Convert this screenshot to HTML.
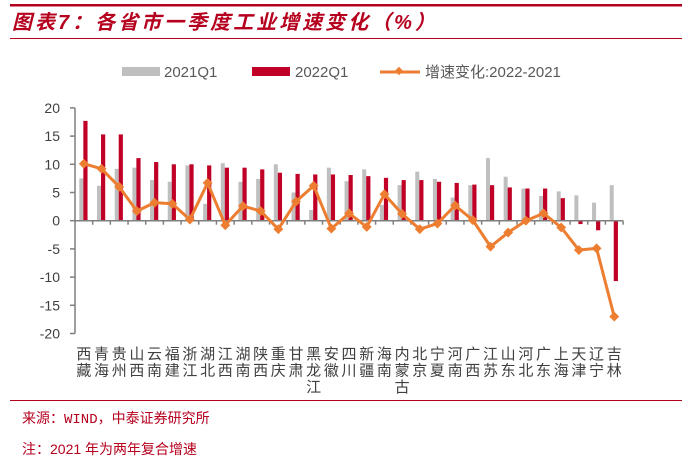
<!DOCTYPE html>
<html><head><meta charset="utf-8"><style>
body{margin:0;background:#fff;width:694px;height:462px;overflow:hidden;font-family:"Liberation Sans","Noto Sans CJK SC",sans-serif}
</style></head><body>
<svg id="c" width="694" height="462" xmlns="http://www.w3.org/2000/svg">
<rect x="10" y="4" width="672" height="2.5" fill="#b5001e"/>
<text x="12" y="29" font-size="20" font-style="italic" font-weight="bold" letter-spacing="3" fill="#b5001e" font-family="'Liberation Sans','Noto Sans CJK SC',sans-serif">图表7：各省市一季度工业增速变化（%）</text>
<rect x="10" y="38" width="672" height="1" fill="#b5001e"/>
<g>
<rect x="122" y="67" width="38" height="9" fill="#bfbfbf"/>
<text x="164" y="77" font-size="15" fill="#595959">2021Q1</text>
<rect x="252" y="67" width="38" height="9" fill="#c00026"/>
<text x="295" y="77" font-size="15" fill="#595959">2022Q1</text>
<line x1="380" y1="72" x2="420" y2="72" stroke="#ed7d31" stroke-width="3"/>
<rect x="396" y="68" width="6" height="6" fill="#ed7d31" transform="rotate(45 399 71)"/>
<text x="425" y="77" font-size="15" fill="#595959">增速变化:2022-2021</text>
</g>
<g id="plot"></g>
<rect x="10" y="400" width="672" height="1" fill="#b5001e"/>
<text x="22" y="423" font-size="14" fill="#b5001e" font-family="'Liberation Mono','Noto Sans CJK SC',monospace">来源：WIND，中泰证券研究所</text>
<text x="22" y="454" font-size="14" fill="#b5001e" font-family="'Liberation Sans','Noto Sans CJK SC',sans-serif">注：2021 年为两年复合增速</text>
</svg>
<script>
const categories=["西藏","青海","贵州","山西","云南","福建","浙江","湖北","江西","湖南","陕西","重庆","甘肃","黑龙江","安徽","四川","新疆","海南","内蒙古","北京","宁夏","河南","广西","江苏","山东","河北","广东","上海","天津","辽宁","吉林"];
const values2021=[7.5,6.2,9.2,9.4,7.2,6.9,9.8,3.0,10.2,6.9,7.4,10.0,5.0,1.9,9.4,7.0,9.1,2.8,6.3,8.7,7.4,4.1,6.3,11.1,7.8,5.7,4.4,5.2,4.5,3.2,6.3];
const values2022=[17.7,15.3,15.3,11.1,10.4,10.0,10.0,9.8,9.4,9.4,9.1,8.5,8.3,8.2,8.2,8.1,7.9,7.6,7.2,7.2,6.9,6.7,6.4,6.3,5.9,5.7,5.7,4.0,-0.6,-1.7,-10.7];
const changeValues=[10.1,9.2,6.0,1.7,3.2,3.0,0.2,6.7,-0.8,2.6,1.7,-1.5,3.4,6.2,-1.4,1.3,-1.1,4.7,1.2,-1.5,-0.5,2.7,0.1,-4.6,-2.1,0.0,1.3,-1.2,-5.2,-4.9,-17.0];
const yTicks=[20,15,10,5,0,-5,-10,-15,-20];
const NS="http://www.w3.org/2000/svg";
const g=document.getElementById('plot');
const X0=75,CW=17.68,Y0=220.7,PU=5.64;
const y=v=>Y0-v*PU;
const xc=i=>X0+(i+0.5)*CW;
function mk(t,a){const e=document.createElementNS(NS,t);for(const k in a)e.setAttribute(k,a[k]);g.appendChild(e);return e;}
let e=mk('line',{x1:X0,y1:y(20),x2:X0,y2:y(-20),stroke:'#7f7f7f','stroke-width':1.5});


yTicks.forEach(t=>{
 let l=mk('line',{x1:X0-5,y1:y(t),x2:X0,y2:y(t),stroke:'#7f7f7f','stroke-width':1.5});
 
 
 let tx=mk('text',{x:X0-15,y:y(t)+5,'font-size':14,fill:'#404040','text-anchor':'end'});
 tx.textContent=t;
 
 
});
categories.forEach((c,i)=>{
 const cx=xc(i);
 let v=values2021[i];
 let b=mk('rect',{x:cx-4.5,y:Math.min(y(v),Y0),width:4,height:Math.abs(y(v)-Y0),fill:'#bfbfbf'});
 
 
 v=values2022[i];
 b=mk('rect',{x:cx-0.5,y:Math.min(y(v),Y0),width:4.2,height:Math.abs(y(v)-Y0),fill:'#c00026'});
 
 
});
e=mk('line',{x1:X0,y1:Y0,x2:X0+categories.length*CW,y2:Y0,stroke:'#7f7f7f','stroke-width':1.5});


for(let i=1;i<=categories.length;i++){
 let l=mk('line',{x1:X0+i*CW,y1:Y0,x2:X0+i*CW,y2:Y0+4,stroke:'#7f7f7f','stroke-width':1.5});
 
 
}
const pts=changeValues.map((v,i)=>xc(i)+','+y(v)).join(' ');
e=mk('polyline',{points:pts,fill:'none',stroke:'#ed7d31','stroke-width':3,'stroke-linejoin':'round'});


changeValues.forEach((v,i)=>{
 let m=mk('rect',{x:xc(i)-3.5,y:y(v)-3.5,width:7,height:7,fill:'#ed7d31',transform:`rotate(45 ${xc(i)} ${y(v)})`});
 
 
});
categories.forEach((c,i)=>{
 [...c].forEach((ch,j)=>{
  let t=mk('text',{x:xc(i),y:359+j*16.5,'font-size':15,fill:'#404040','text-anchor':'middle'});
  t.textContent=ch;
  
  
 });
});
</script>
</body></html>
